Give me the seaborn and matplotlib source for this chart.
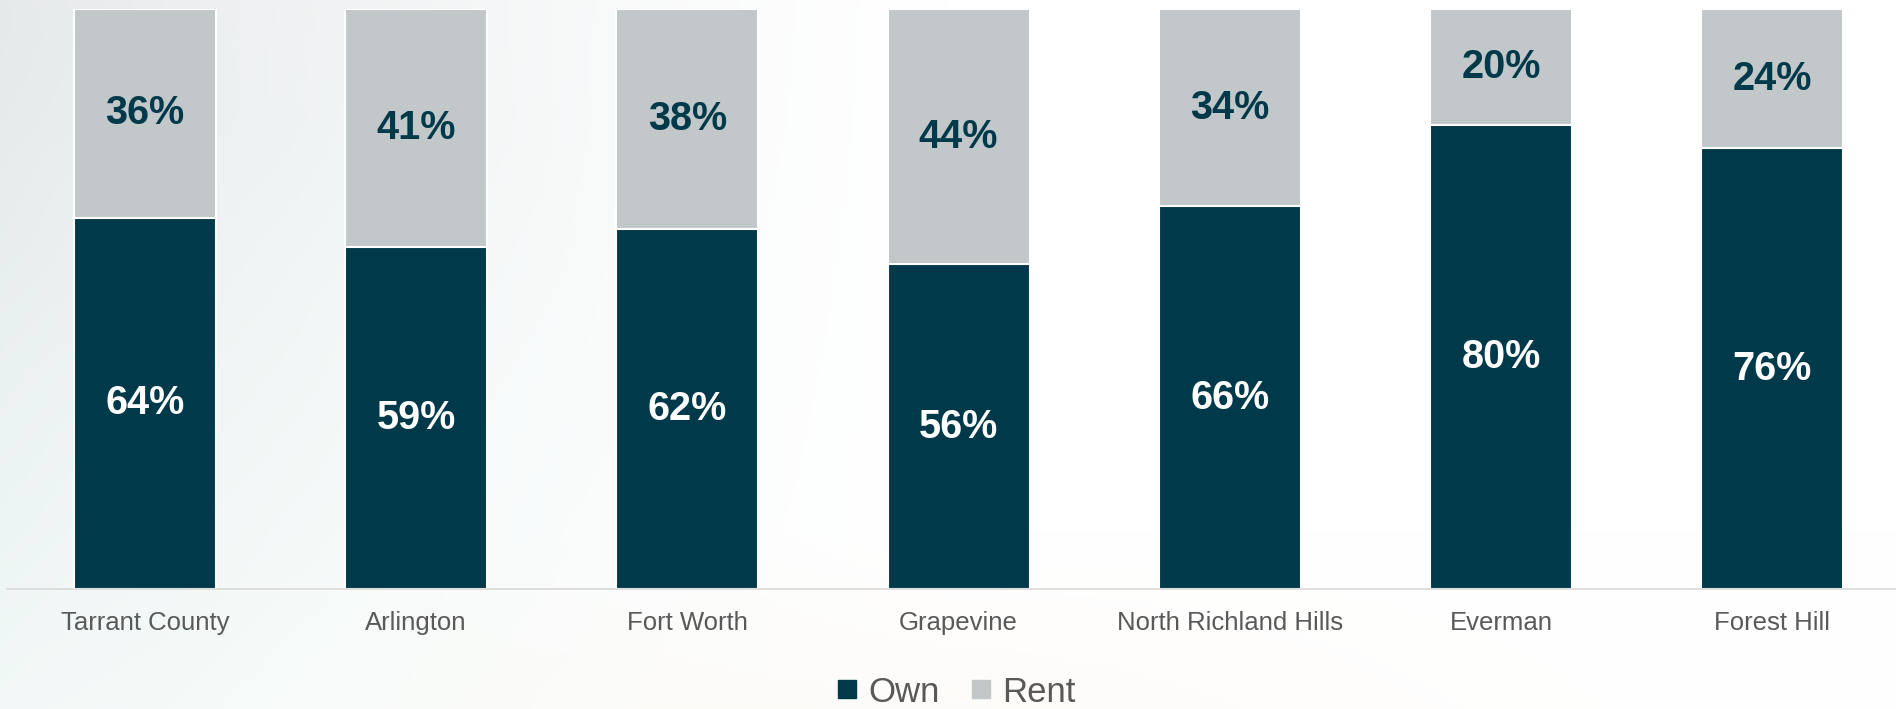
import numpy as np
import pandas as pd
import matplotlib
matplotlib.use("Agg")
import matplotlib.pyplot as plt
from matplotlib.lines import Line2D
import seaborn as sns

# data
cities = ["Tarrant County", "Arlington", "Fort Worth", "Grapevine",
          "North Richland Hills", "Everman", "Forest Hill"]
own = [64, 59, 62, 56, 66, 80, 76]
rent = [36, 41, 38, 44, 34, 20, 24]

own_color = "#003a4a"
rent_color = "#c2c7ca"
text_gray = "#595959"

sns.set_style("white")
plt.rcParams['font.family'] = ['Liberation Sans', 'DejaVu Sans']

df = pd.DataFrame({"City": cities, "Own": own, "Rent": rent})
df["Total"] = df["Own"] + df["Rent"]

fig = plt.figure(figsize=(18.96, 7.09), dpi=100)

# soft background gradient
bg = fig.add_axes([0, 0, 1, 1], zorder=-5)
h, w = 200, 500
yy, xx = np.mgrid[0:1:h * 1j, 0:1:w * 1j]
top = np.array([0.905, 0.915, 0.92])
low = np.array([0.89, 0.95, 0.94])
base = top[None, None, :] * (1 - yy[..., None]) + low[None, None, :] * yy[..., None]
wgt = np.clip(1 - xx / 0.5, 0, 1) ** 1.3
wgt = wgt * np.clip(1.1 - yy * 0.6, 0, 1)
img = np.ones((h, w, 3)) * (1 - wgt[..., None]) + base * wgt[..., None]
warm = np.clip((yy - 0.75) / 0.25, 0, 1) * np.exp(-((xx - 0.45) / 0.3) ** 2) * 0.5
img = img * (1 - warm[..., None]) + np.array([0.99, 0.975, 0.955]) * warm[..., None]
bg.imshow(img, aspect="auto", extent=[0, 1, 0, 1])
bg.axis("off")

ax = fig.add_axes([7 / 1896, 120 / 709, 1889 / 1896, 580 / 709])
ax.patch.set_alpha(0)

sns.barplot(data=df, x="City", y="Total", color=rent_color, width=0.524,
            edgecolor="white", linewidth=1.5, saturation=1, ax=ax)
sns.barplot(data=df, x="City", y="Own", color=own_color, width=0.524,
            edgecolor="white", linewidth=1.5, saturation=1, ax=ax)

for i, (o, r) in enumerate(zip(own, rent)):
    ax.text(i, o / 2, f"{o}%", ha="center", va="center", color="white",
            fontsize=28.5, fontweight="bold")
    ax.text(i, o + r / 2, f"{r}%", ha="center", va="center", color=own_color,
            fontsize=28.5, fontweight="bold")

ax.set_xlim(-0.509, 6.457)
ax.set_ylim(0, 100)
ax.set_xlabel("")
ax.set_ylabel("")
ax.set_yticks([])
ax.tick_params(axis="x", length=0, pad=16, labelsize=18.5, labelcolor=text_gray)
for side in ["top", "right", "left"]:
    ax.spines[side].set_visible(False)
ax.spines["bottom"].set_color("#d9d9d9")
ax.spines["bottom"].set_linewidth(1.2)

handles = [
    Line2D([], [], marker="s", linestyle="", color=own_color, markersize=12.5),
    Line2D([], [], marker="s", linestyle="", color=rent_color, markersize=12.5),
]
fig.legend(handles, ["Own", "Rent"], loc="center", ncol=2,
           bbox_to_anchor=(956 / 1896, 1 - 692 / 709), frameon=False,
           fontsize=25, labelcolor=text_gray, handlelength=0.6,
           handletextpad=0.3, columnspacing=0.9, borderpad=0)

fig.savefig("out.png", dpi=100)
